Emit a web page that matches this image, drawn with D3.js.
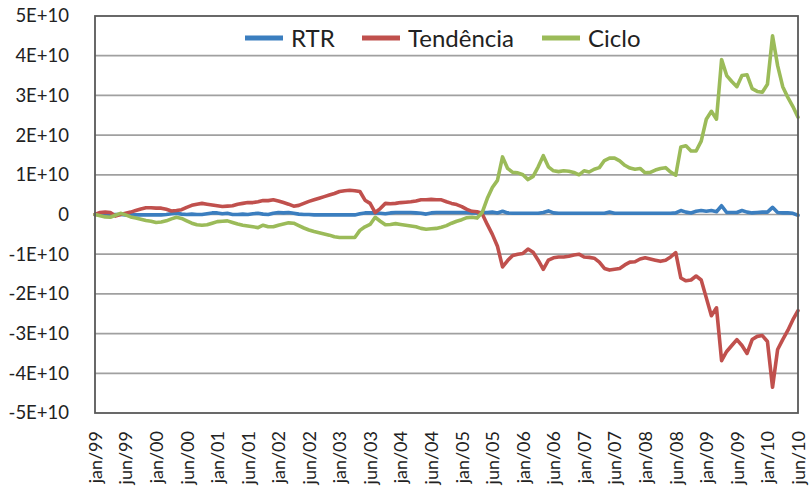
<!DOCTYPE html>
<html>
<head>
<meta charset="utf-8">
<script src="https://cdn.jsdelivr.net/npm/d3@7"></script>
<style>
  body { margin: 0; background: #fff; }
  text { font-family: Lato, "Open Sans", sans-serif; fill: #222; }
</style>
</head>
<body>
<div id="chart"></div>
<script>
// values in units of 1E+10, one per month starting jan/99
var rtr = [
  0, 0.01, 0, -0.01, 0, 0, -0.01, -0.01, -0.01, -0.01,
  -0.01, -0.01, -0.01, -0.01, 0, 0.02, 0.03, 0.01, 0, 0.01,
  0, 0, 0.02, 0.04, 0.04, 0.02, 0.03, 0, 0, 0.01,
  0, 0.02, 0.03, 0.01, 0, 0.03, 0.05, 0.04, 0.05, 0.03,
  0.01, 0, 0, -0.01, -0.01, -0.01, -0.01, -0.01, -0.01, -0.01,
  -0.01, -0.01, 0.02, 0.04, 0.04, 0.04, 0.03, 0.02, 0.04, 0.05,
  0.05, 0.05, 0.05, 0.04, 0.03, 0.01, 0.04, 0.05, 0.05, 0.05,
  0.05, 0.05, 0.05, 0.05, 0.04, 0.04, 0.05, 0.05, 0.06, 0.04,
  0.08, 0.04, 0.03, 0.03, 0.03, 0.03, 0.03, 0.03, 0.05, 0.09,
  0.04, 0.03, 0.03, 0.03, 0.03, 0.03, 0.03, 0.03, 0.03, 0.03,
  0.03, 0.06, 0.03, 0.03, 0.03, 0.03, 0.03, 0.03, 0.03, 0.03,
  0.03, 0.03, 0.03, 0.03, 0.04, 0.1, 0.06, 0.04, 0.08, 0.1,
  0.08, 0.1, 0.07, 0.22, 0.05, 0.05, 0.05, 0.1, 0.06, 0.04,
  0.05, 0.06, 0.06, 0.18, 0.05, 0.04, 0.04, 0.03, -0.02
];

var tendencia = [
  0, 0.05, 0.06, 0.05, -0.04, 0, 0.03, 0.06, 0.1, 0.14,
  0.17, 0.17, 0.16, 0.16, 0.13, 0.09, 0.1, 0.12, 0.18, 0.23,
  0.26, 0.28, 0.26, 0.24, 0.22, 0.2, 0.21, 0.22, 0.26, 0.28,
  0.3, 0.3, 0.32, 0.35, 0.35, 0.37, 0.34, 0.3, 0.26, 0.21,
  0.23, 0.28, 0.33, 0.37, 0.41, 0.45, 0.49, 0.53, 0.58, 0.6,
  0.61, 0.6, 0.58, 0.36, 0.28, 0.05, 0.15, 0.28, 0.27, 0.28,
  0.3, 0.31, 0.32, 0.34, 0.37, 0.37, 0.38, 0.37, 0.37, 0.32,
  0.28, 0.25, 0.2, 0.13, 0.08, 0.07, 0.02, -0.25, -0.5, -0.8,
  -1.32, -1.16, -1.03, -1.0, -0.98, -0.87, -0.95, -1.15, -1.38, -1.15,
  -1.09, -1.07, -1.07, -1.05, -1.02, -1.0, -1.07, -1.08, -1.1, -1.2,
  -1.36, -1.4, -1.38, -1.36, -1.27, -1.2, -1.19, -1.12, -1.09, -1.12,
  -1.15, -1.18, -1.15, -1.07, -0.96, -1.6, -1.67, -1.65, -1.55, -1.65,
  -2.1, -2.55, -2.35, -3.68, -3.45, -3.3, -3.15, -3.3, -3.5, -3.15,
  -3.07, -3.05, -3.2, -4.35, -3.4, -3.15, -2.92, -2.65, -2.42
];

var ciclo = [
  0, -0.03, -0.06, -0.07, -0.02, 0.03, -0.01, -0.06, -0.09, -0.12,
  -0.15, -0.17, -0.2, -0.19, -0.16, -0.11, -0.07, -0.1, -0.16, -0.22,
  -0.26, -0.27, -0.26, -0.22, -0.18, -0.17, -0.16, -0.2, -0.24, -0.27,
  -0.29, -0.31, -0.33, -0.27, -0.31, -0.31, -0.27, -0.24, -0.21, -0.22,
  -0.28, -0.34, -0.39, -0.43, -0.46, -0.49, -0.52, -0.56, -0.58, -0.58,
  -0.58, -0.58, -0.4, -0.31, -0.25, -0.07, -0.17, -0.26, -0.25, -0.23,
  -0.25, -0.27, -0.29, -0.31, -0.35, -0.37, -0.36, -0.35, -0.32, -0.28,
  -0.22, -0.17, -0.13, -0.08, -0.07, -0.09, 0.05, 0.4, 0.68, 0.86,
  1.45, 1.16, 1.06, 1.05, 1.0, 0.88, 0.96, 1.2, 1.48, 1.2,
  1.1, 1.08, 1.1, 1.09, 1.06, 1.0, 1.1, 1.07, 1.14, 1.18,
  1.36, 1.42, 1.42, 1.35, 1.24, 1.17, 1.14, 1.16, 1.05, 1.06,
  1.12, 1.16, 1.18, 1.07, 0.99, 1.7, 1.73, 1.6, 1.6, 1.85,
  2.4, 2.6, 2.4, 3.9, 3.5, 3.35, 3.22, 3.5, 3.52, 3.17,
  3.1, 3.08, 3.28, 4.5, 3.75, 3.22, 2.95, 2.72, 2.45
];

var tickLabels = [
  "jan/99", "jun/99", "jan/00", "jun/00", "jan/01", "jun/01", "jan/02", "jun/02",
  "jan/03", "jun/03", "jan/04", "jun/04", "jan/05", "jun/05", "jan/06", "jun/06",
  "jan/07", "jun/07", "jan/08", "jun/08", "jan/09", "jun/09", "jan/10", "jun/10"
];

var seriesNames = ["RTR", "Tendência", "Ciclo"];
var seriesColors = ["#3b7ebf", "#c0504d", "#9bbb59"];
var yTicks = [-5, -4, -3, -2, -1, 0, 1, 2, 3, 4, 5];

var width = 809, height = 486;
var plotLeft = 95, plotRight = 798, plotTop = 16, plotBottom = 413;

var svg = d3.select("#chart")
  .append("svg")
    .attr("width", width)
    .attr("height", height);

var x = d3.scaleLinear().domain([0, rtr.length - 1]).range([plotLeft, plotRight]);
var y = d3.scaleLinear().domain([-5, 5]).range([plotBottom, plotTop]);

// gridlines
svg.append("g")
  .selectAll("line")
  .data(yTicks.slice(1, -1))
  .enter()
    .append("line")
      .attr("x1", plotLeft)
      .attr("x2", plotRight)
      .attr("y1", d => y(d))
      .attr("y2", d => y(d))
      .attr("stroke", "#a0a0a0")
      .attr("stroke-width", 1.7);

// y axis labels
var yAxis = d3.axisLeft(y)
  .tickValues(yTicks)
  .tickSize(0)
  .tickPadding(26)
  .tickFormat(d => d === 0 ? "0" : d + "E+10");

svg.append("g")
  .attr("transform", "translate(" + plotLeft + ",0)")
  .call(yAxis)
  .call(g => g.select(".domain").remove())
  .selectAll("text")
    .style("font-size", "18.5px")
    .attr("fill", "#222");

// x axis labels, one every 6 points
var xAxis = d3.axisBottom(x)
  .tickValues(tickLabels.map((d, i) => i * 6))
  .tickSize(0)
  .tickFormat((d, i) => tickLabels[i]);

svg.append("g")
  .attr("transform", "translate(0," + plotBottom + ")")
  .call(xAxis)
  .call(g => g.select(".domain").remove())
  .selectAll("text")
    .style("font-size", "18px")
    .attr("fill", "#222")
    .attr("text-anchor", "end")
    .attr("transform", "translate(0,18) rotate(-90)")
    .attr("x", 0)
    .attr("y", 0)
    .attr("dy", "0.35em");

// series lines
var line = d3.line()
  .x((d, i) => x(i))
  .y(d => y(d));

svg.append("g")
  .selectAll("path")
  .data([rtr, tendencia, ciclo])
  .enter()
    .append("path")
      .attr("d", line)
      .attr("fill", "none")
      .attr("stroke", (d, i) => seriesColors[i])
      .attr("stroke-width", 3.6)
      .attr("stroke-linejoin", "round")
      .attr("stroke-linecap", "round");

// plot border
svg.append("rect")
  .attr("x", plotLeft)
  .attr("y", plotTop)
  .attr("width", plotRight - plotLeft)
  .attr("height", plotBottom - plotTop)
  .attr("fill", "none")
  .attr("stroke", "#595959")
  .attr("stroke-width", 1.8);

// legend
var legendX = [245, 362, 542];
var legend = svg.append("g")
  .selectAll("g")
  .data(seriesNames)
  .enter()
    .append("g")
      .attr("transform", (d, i) => "translate(" + legendX[i] + ",38)");

legend.append("line")
  .attr("x1", 0)
  .attr("x2", 38)
  .attr("stroke", (d, i) => seriesColors[i])
  .attr("stroke-width", 5);

legend.append("text")
  .attr("x", 46)
  .attr("dy", "0.36em")
  .style("font-size", "24px")
  .text(d => d);
</script>
</body>
</html>
